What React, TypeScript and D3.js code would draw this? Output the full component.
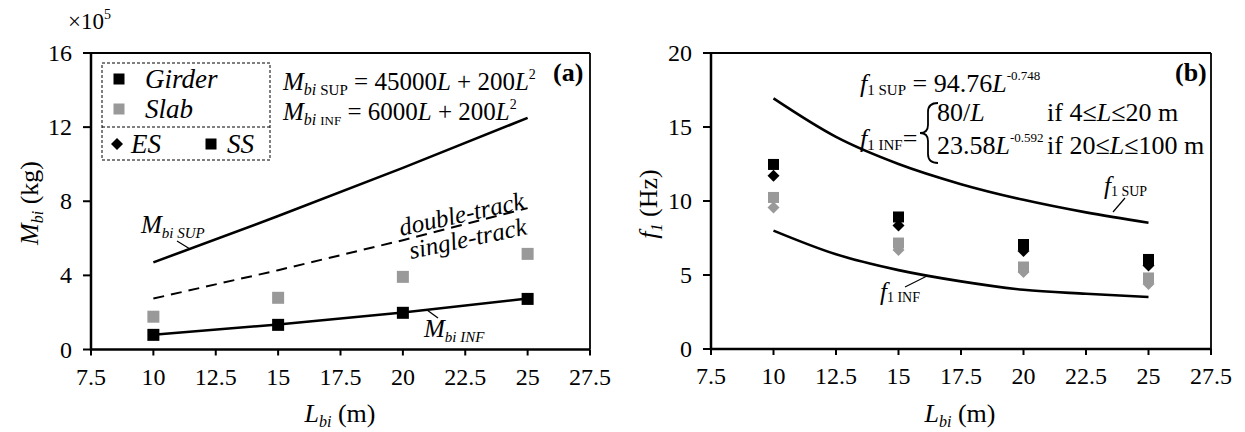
import React from "react";
import * as d3 from "d3";

// ---------- data ----------
const spans = [10, 15, 20, 25]; // L_bi (m)
// panel (a): mass ×10^5 kg
const girderMass = [0.79, 1.33, 1.98, 2.73];
const slabMass = [1.77, 2.79, 3.92, 5.16];
const mSupCurve = [4.7, 7.2, 9.8, 12.5];
const mInfCurve = [0.8, 1.35, 2.0, 2.75];
const mTrackCurve = [2.75, 4.28, 5.9, 7.63];
// panel (b): frequency Hz
const freqSpans = [10, 12.5, 15, 17.5, 20, 22.5, 25];
const fSupCurve = [16.93, 14.33, 12.5, 11.14, 10.08, 9.23, 8.53];
const fInfCurve = [8.0, 6.4, 5.33, 4.57, 4.0, 3.73, 3.51];
const girderSS = [12.47, 8.92, 7.06, 6.05];
const girderES = [11.71, 8.34, 6.62, 5.64];
const slabSS = [10.24, 7.16, 5.54, 4.8];
const slabES = [9.56, 6.69, 5.2, 4.39];
// ticks
const xTickValues = [7.5, 10, 12.5, 15, 17.5, 20, 22.5, 25, 27.5];
const yTicksA = [0, 4, 8, 12, 16];
const yTicksB = [0, 5, 10, 15, 20];

const FONT = "'Liberation Serif', 'Times New Roman', serif";
const BLACK = "#000";
const GREY = "#999";

const xA = d3.scaleLinear().domain([7.5, 27.5]).range([91, 590]);
const yA = d3.scaleLinear().domain([0, 16]).range([349.5, 53]);
const xB = d3.scaleLinear().domain([7.5, 27.5]).range([711, 1211]);
const yB = d3.scaleLinear().domain([0, 20]).range([349, 53]);

const TICK_FS = 24;

function Square({ x, y, s, fill }: { x: number; y: number; s: number; fill: string }) {
  return <rect x={x - s / 2} y={y - s / 2} width={s} height={s} fill={fill} />;
}
function Diamond({ x, y, r, fill }: { x: number; y: number; r: number; fill: string }) {
  return <path d={`M${x},${y - r}L${x + r},${y}L${x},${y + r}L${x - r},${y}Z`} fill={fill} />;
}

function Frame({ x, y, yTicks }: { x: d3.ScaleLinear<number, number>; y: d3.ScaleLinear<number, number>; yTicks: number[] }) {
  const [x0, x1] = x.range();
  const [y0, y1] = y.range();
  return (
    <g>
      <line x1={x0} x2={x1} y1={y1} y2={y1} stroke={BLACK} strokeWidth={1.8} />
      <line x1={x1} x2={x1} y1={y1} y2={y0} stroke={BLACK} strokeWidth={1.8} />
      <line x1={x0} x2={x1} y1={y0} y2={y0} stroke={BLACK} strokeWidth={2.5} />
      <line x1={x0} x2={x0} y1={y1} y2={y0 + 1} stroke={BLACK} strokeWidth={2.5} />
      {xTickValues.map((v) => (
        <g key={"x" + v}>
          <line x1={x(v)} x2={x(v)} y1={y0} y2={y0 + 6} stroke={BLACK} strokeWidth={2} />
          <text x={x(v)} y={y0 + 35} textAnchor="middle" fontSize={TICK_FS}>
            {String(v)}
          </text>
        </g>
      ))}
      {yTicks.map((v) => (
        <g key={"y" + v}>
          <line x1={x0 - 8} x2={x0} y1={y(v)} y2={y(v)} stroke={BLACK} strokeWidth={2} />
          <text x={x0 - 19} y={y(v) + 8} textAnchor="end" fontSize={TICK_FS}>
            {String(v)}
          </text>
        </g>
      ))}
    </g>
  );
}

export default function App() {
  const lineA = d3
    .line<number>()
    .x((_, i) => xA(spans[i]))
    .y((d) => yA(d));
  const lineB = d3
    .line<number>()
    .x((_, i) => xB(freqSpans[i]))
    .y((d) => yB(d))
    .curve(d3.curveMonotoneX);

  return (
    <svg
      width={1245}
      height={432}
      style={{ position: "absolute", left: 0, top: 0, background: "#fff", fontFamily: FONT }}
    >
      {/* ================= panel (a) ================= */}
      <Frame x={xA} y={yA} yTicks={yTicksA} />
      <text x={68} y={29} fontSize={23}>
        ×10<tspan fontSize={14} dy={-10}>5</tspan>
      </text>
      {/* y label */}
      <text transform="translate(38,203) rotate(-90)" textAnchor="middle" fontSize={26}>
        <tspan fontStyle="italic">M</tspan>
        <tspan fontStyle="italic" fontSize={16} dy={5}>bi</tspan>
        <tspan dy={-5}>{" (kg)"}</tspan>
      </text>
      {/* x label */}
      <text x={340} y={422} textAnchor="middle" fontSize={26}>
        <tspan fontStyle="italic">L</tspan>
        <tspan fontStyle="italic" fontSize={16} dy={5}>bi</tspan>
        <tspan dy={-5}>{" (m)"}</tspan>
      </text>

      <path d={lineA(mSupCurve) || ""} fill="none" stroke={BLACK} strokeWidth={2.6} />
      <path d={lineA(mTrackCurve) || ""} fill="none" stroke={BLACK} strokeWidth={2} strokeDasharray="11,7" />
      <path d={lineA(mInfCurve) || ""} fill="none" stroke={BLACK} strokeWidth={2.6} />
      {slabMass.map((v, i) => (
        <Square key={"sa" + i} x={xA(spans[i])} y={yA(v)} s={12} fill={GREY} />
      ))}
      {girderMass.map((v, i) => (
        <Square key={"ga" + i} x={xA(spans[i])} y={yA(v)} s={12} fill={BLACK} />
      ))}

      {/* legend */}
      <rect x={102} y={63} width={168} height={97} fill="none" stroke={BLACK} strokeWidth={1} strokeDasharray="3,2" />
      <line x1={102} x2={270} y1={127} y2={127} stroke={BLACK} strokeWidth={1} strokeDasharray="3,2" />
      <Square x={119} y={79} s={11} fill={BLACK} />
      <text x={145} y={88} fontSize={27} fontStyle="italic">Girder</text>
      <Square x={119} y={109} s={11} fill={GREY} />
      <text x={145} y={118} fontSize={27} fontStyle="italic">Slab</text>
      <Diamond x={117} y={144} r={6} fill={BLACK} />
      <text x={131} y={153} fontSize={27} fontStyle="italic">ES</text>
      <Square x={211} y={144} s={11} fill={BLACK} />
      <text x={227} y={153} fontSize={27} fontStyle="italic">SS</text>

      {/* formulas (a) */}
      <text x={283} y={90} fontSize={25}>
        <tspan fontStyle="italic">M</tspan>
        <tspan fontStyle="italic" fontSize={16} dy={5}>{"bi "}</tspan>
        <tspan fontSize={15}>SUP</tspan>
        <tspan dy={-5}>{" = 45000"}</tspan>
        <tspan fontStyle="italic">L</tspan>
        <tspan>{" + 200"}</tspan>
        <tspan fontStyle="italic">L</tspan>
        <tspan fontSize={14} dy={-11}>2</tspan>
      </text>
      <text x={283} y={120} fontSize={25}>
        <tspan fontStyle="italic">M</tspan>
        <tspan fontStyle="italic" fontSize={16} dy={5}>{"bi  "}</tspan>
        <tspan fontSize={13}>INF</tspan>
        <tspan dy={-5}>{" = 6000"}</tspan>
        <tspan fontStyle="italic">L</tspan>
        <tspan>{" + 200"}</tspan>
        <tspan fontStyle="italic">L</tspan>
        <tspan fontSize={14} dy={-11}>2</tspan>
      </text>
      <text x={553} y={81} fontSize={26} fontWeight="bold">(a)</text>

      {/* curve labels (a) */}
      <text x={141} y={233} fontSize={25}>
        <tspan fontStyle="italic">M</tspan>
        <tspan fontStyle="italic" fontSize={15} dy={5}>bi SUP</tspan>
      </text>
      <line x1={177} y1={241} x2={190} y2={249} stroke={BLACK} strokeWidth={1.2} />
      <text x={424} y={337} fontSize={25}>
        <tspan fontStyle="italic">M</tspan>
        <tspan fontStyle="italic" fontSize={15} dy={5}>bi INF</tspan>
      </text>
      <line x1={427} y1={310} x2={438} y2={318} stroke={BLACK} strokeWidth={1.2} />
      <text transform="translate(401,236) rotate(-12.5)" fontSize={25} fontStyle="italic">double-track</text>
      <text transform="translate(411,259) rotate(-12)" fontSize={25} fontStyle="italic">single-track</text>

      {/* ================= panel (b) ================= */}
      <Frame x={xB} y={yB} yTicks={yTicksB} />
      <text transform="translate(657,204) rotate(-90)" textAnchor="middle" fontSize={26}>
        <tspan fontStyle="italic">f</tspan>
        <tspan fontStyle="italic" fontSize={16} dy={5}>1</tspan>
        <tspan dy={-5}>{" (Hz)"}</tspan>
      </text>
      <text x={960} y={422} textAnchor="middle" fontSize={26}>
        <tspan fontStyle="italic">L</tspan>
        <tspan fontStyle="italic" fontSize={16} dy={5}>bi</tspan>
        <tspan dy={-5}>{" (m)"}</tspan>
      </text>

      <path d={lineB(fSupCurve) || ""} fill="none" stroke={BLACK} strokeWidth={2.6} />
      <path d={lineB(fInfCurve) || ""} fill="none" stroke={BLACK} strokeWidth={2.6} />
      {slabES.map((v, i) => (
        <Diamond key={"seb" + i} x={xB(spans[i])} y={yB(v)} r={6} fill={GREY} />
      ))}
      {slabSS.map((v, i) => (
        <Square key={"ssb" + i} x={xB(spans[i])} y={yB(v)} s={11} fill={GREY} />
      ))}
      {girderES.map((v, i) => (
        <Diamond key={"geb" + i} x={xB(spans[i])} y={yB(v)} r={6} fill={BLACK} />
      ))}
      {girderSS.map((v, i) => (
        <Square key={"gsb" + i} x={xB(spans[i])} y={yB(v)} s={11} fill={BLACK} />
      ))}

      {/* formulas (b) */}
      <text x={860} y={92} fontSize={26}>
        <tspan fontStyle="italic">f</tspan>
        <tspan fontSize={15} dy={3}>{"1  SUP"}</tspan>
        <tspan dy={-3}>{" = 94.76"}</tspan>
        <tspan fontStyle="italic">L</tspan>
        <tspan fontSize={13} dy={-12}>-0.748</tspan>
      </text>
      <text x={860} y={147} fontSize={26}>
        <tspan fontStyle="italic">f</tspan>
        <tspan fontSize={15} dy={3}>{"1  INF"}</tspan>
        <tspan dy={-3}>=</tspan>
      </text>
      <path
        d="M938,103 Q928,103 928,112 L928,125 Q928,133 920,133 Q928,133 928,141 L928,154 Q928,163 938,163"
        fill="none"
        stroke={BLACK}
        strokeWidth={1.8}
      />
      <text x={937} y={121} fontSize={26}>
        80/<tspan fontStyle="italic">L</tspan>
      </text>
      <text x={937} y={154} fontSize={26}>
        23.58<tspan fontStyle="italic">L</tspan>
        <tspan fontSize={13} dy={-12}>-0.592</tspan>
      </text>
      <text x={1047} y={121} fontSize={26}>
        {"if 4≤"}
        <tspan fontStyle="italic">L</tspan>
        {"≤20 m"}
      </text>
      <text x={1047} y={154} fontSize={26}>
        {"if 20≤"}
        <tspan fontStyle="italic">L</tspan>
        {"≤100 m"}
      </text>
      <text x={1175} y={81} fontSize={26} fontWeight="bold">(b)</text>

      {/* curve labels (b) */}
      <text x={1104} y={194} fontSize={25}>
        <tspan fontStyle="italic">f</tspan>
        <tspan fontSize={14} dy={2}>{"1  SUP"}</tspan>
      </text>
      <line x1={1125} y1={198} x2={1113} y2={212} stroke={BLACK} strokeWidth={1.2} />
      <text x={880} y={300} fontSize={25}>
        <tspan fontStyle="italic">f</tspan>
        <tspan fontSize={14} dy={2}>{"1  INF"}</tspan>
      </text>
      <line x1={905} y1={287} x2={927} y2={276} stroke={BLACK} strokeWidth={1.2} />
    </svg>
  );
}
